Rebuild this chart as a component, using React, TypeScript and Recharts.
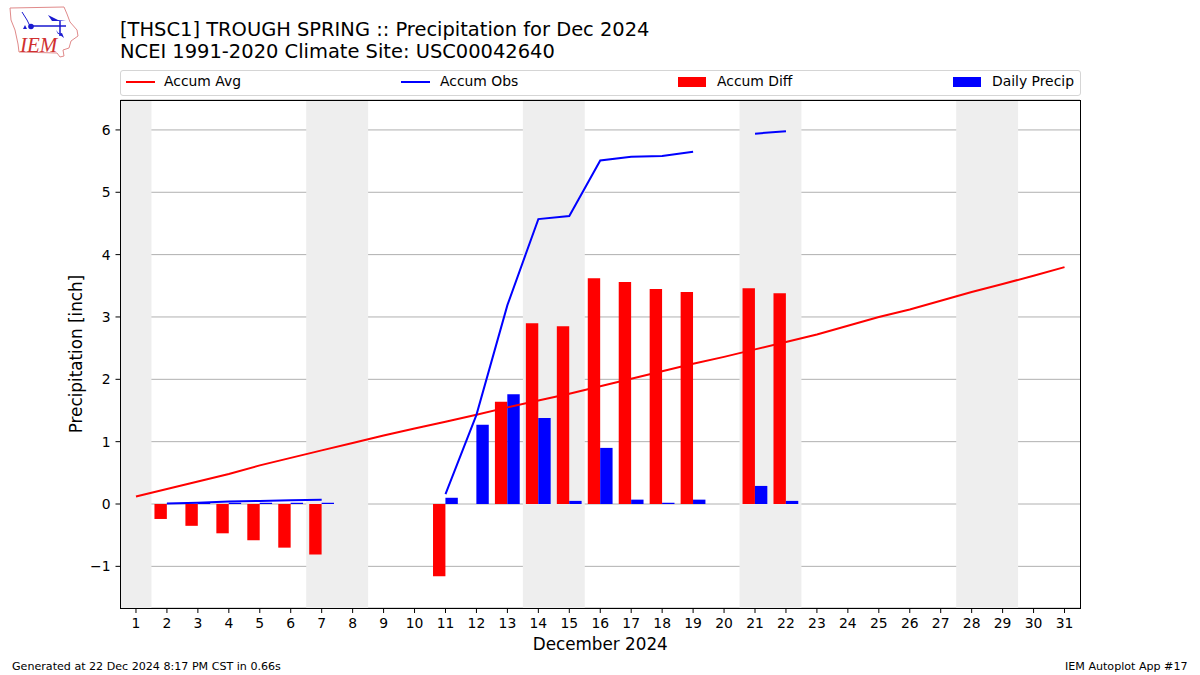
import React from "react";
import { ComposedChart, Bar, Line, XAxis, YAxis, CartesianGrid, ReferenceArea, Label } from "recharts";

const days = [1,2,3,4,5,6,7,8,9,10,11,12,13,14,15,16,17,18,19,20,21,22,23,24,25,26,27,28,29,30,31];
const accumAvg = [0.12,0.24,0.36,0.48,0.62,0.74,0.86,0.98,1.10,1.21,1.32,1.43,1.55,1.66,1.77,1.89,2.01,2.13,2.25,2.36,2.48,2.60,2.72,2.86,3.00,3.12,3.26,3.40,3.53,3.66,3.80];
const accumObs = [null,0.01,0.02,0.04,0.05,0.06,0.07,null,null,null,0.16,1.43,3.19,4.57,4.62,5.51,5.57,5.58,5.65,null,5.94,5.98,null,null,null,null,null,null,null,null,null];
const accumDiff = [null,-0.24,-0.35,-0.47,-0.58,-0.70,-0.81,null,null,null,-1.16,null,1.64,2.90,2.85,3.62,3.56,3.45,3.40,null,3.46,3.38,null,null,null,null,null,null,null,null,null];
const dailyPrecip = [null,0.01,0.02,0.02,0.02,0.02,0.02,null,null,null,0.10,1.27,1.76,1.38,0.05,0.90,0.07,0.02,0.07,null,0.29,0.05,null,null,null,null,null,null,null,null,null];
const weekends: [number, number][] = [[1,1],[7,8],[14,15],[21,22],[28,29]];
const yTicks = [-1,0,1,2,3,4,5,6];
const yDomain = [-1.668, 6.48];

const rows = days.map((day, i) => ({ day, avg: accumAvg[i], obs: accumObs[i], diff: accumDiff[i], daily: dailyPrecip[i] }));
const FONT = "'DejaVu Sans', sans-serif";

const abs = (left: number, top: number, size: number, extra: any = {}): any => ({
  position: "absolute", left, top, fontSize: size, fontFamily: FONT, color: "#000", whiteSpace: "nowrap", lineHeight: 1, ...extra,
});

function LegendBox() {
  const swatch = (x: number, kind: "line" | "bar", color: string) =>
    kind === "line"
      ? <div style={{ position: "absolute", left: x, top: 81, width: 29, height: 2, background: color }} />
      : <div style={{ position: "absolute", left: x, top: 77, width: 28, height: 10, background: color }} />;
  return (
    <>
      <div style={{ position: "absolute", left: 120, top: 70, width: 959, height: 24, border: "1px solid #d5d5d5", borderRadius: 3, background: "#fff" }} />
      {swatch(126, "line", "#ff0000")}
      <div style={abs(164, 75, 13.9)}>Accum Avg</div>
      {swatch(401, "line", "#0000ff")}
      <div style={abs(440, 75, 13.9)}>Accum Obs</div>
      {swatch(678, "bar", "#ff0000")}
      <div style={abs(717, 75, 13.9)}>Accum Diff</div>
      {swatch(953, "bar", "#0000ff")}
      <div style={abs(992, 75, 13.9)}>Daily Precip</div>
    </>
  );
}

function Logo() {
  return (
    <svg style={{ position: "absolute", left: 0, top: 0 }} width={90} height={62}>
      <path d="M10 8 L64 7 L67 14 L70 22 L77 30 L78 36 L71 41 L69 48 L63 50 L64 56 L60 57 L57 53 L19 52 L18 44 L15 30 L11 20 Z" fill="none" stroke="#e08a8a" strokeWidth={1} />
      <path d="M30 26 L66 26 M60 21 L60 36" stroke="#1a1ad0" strokeWidth={1.5} fill="none" />
      <path d="M48 15 L58 20 L66 21 L52 21 Z" fill="#1a1ad0" />
      <path d="M22 12 L27 20 L30 26" stroke="#1a1ad0" strokeWidth={1} fill="none" />
      <circle cx={31} cy={26.5} r={2.8} fill="#1a1ad0" />
      <path d="M25 25 L27 29 L23 29 Z M56 30 L58 34 L62 33 L64 38 L60 35 Z" fill="#1a1ad0" />
      <text x={20} y={52} fontFamily="'Liberation Serif', serif" fontStyle="italic" fontSize={21} fill="#d03030">IEM</text>
    </svg>
  );
}

export default function App() {
  return (
    <div style={{ position: "absolute", left: 0, top: 0, width: 1200, height: 675, background: "#fff", overflow: "hidden" }}>
      <Logo />
      <div style={abs(120, 20, 19.47)}>[THSC1] TROUGH SPRING :: Precipitation for Dec 2024</div>
      <div style={abs(120, 42, 19.47)}>NCEI 1991-2020 Climate Site: USC00042640</div>
      <LegendBox />
      <div style={{ position: "absolute", left: 0, top: 0 }}>
        <ComposedChart
          width={1200}
          height={675}
          data={rows}
          margin={{ top: 100, right: 120, bottom: 0, left: 60 }}
          barSize={12.4}
          barGap={0}
          style={{ fontFamily: FONT }}
        >
          {weekends.map(([a, b]) => (
            <ReferenceArea key={a} x1={a} x2={b} fill="#eeeeee" fillOpacity={1} stroke="none" />
          ))}
          <CartesianGrid horizontal vertical={false} stroke="#b0b0b0" strokeWidth={1} />
          <XAxis
            dataKey="day"
            type="category"
            interval={0}
            padding={{ left: 0, right: 0 }}
            height={67}
            axisLine={false}
            tickLine={{ stroke: "#000" }}
            tickSize={5}
            tickMargin={5}
            tick={{ fill: "#000", fontSize: 13.9 }}
          >
            <Label value="December 2024" position="insideTop" offset={30} fill="#000" fontSize={16.8} />
          </XAxis>
          <YAxis
            type="number"
            width={60.5}
            domain={yDomain}
            ticks={yTicks}
            allowDataOverflow
            axisLine={false}
            tickLine={{ stroke: "#000" }}
            tickSize={5}
            tickMargin={5}
            tick={{ fill: "#000", fontSize: 13.9 }}
            tickFormatter={(v: number) => (v < 0 ? "\u2212" + Math.abs(v) : String(v))}
          >
            <Label value="Precipitation [inch]" angle={-90} position="center" dx={-14} dy={0} fill="#000" fontSize={16.8} />
          </YAxis>
          <Bar dataKey="diff" fill="#ff0000" isAnimationActive={false} />
          <Bar dataKey="daily" fill="#0000ff" isAnimationActive={false} />
          <Line dataKey="avg" stroke="#ff0000" strokeWidth={2} dot={false} activeDot={false} connectNulls={false} isAnimationActive={false} />
          <Line dataKey="obs" stroke="#0000ff" strokeWidth={2} dot={false} activeDot={false} connectNulls={false} isAnimationActive={false} />
        </ComposedChart>
      </div>
      <div style={{ position: "absolute", left: 120, top: 100, width: 959, height: 507, border: "1px solid #000", pointerEvents: "none" }} />
      <div style={abs(12, 661, 11.1)}>Generated at 22 Dec 2024 8:17 PM CST in 0.66s</div>
      <div style={abs(1065, 661, 11.1)}>IEM Autoplot App #17</div>
    </div>
  );
}
